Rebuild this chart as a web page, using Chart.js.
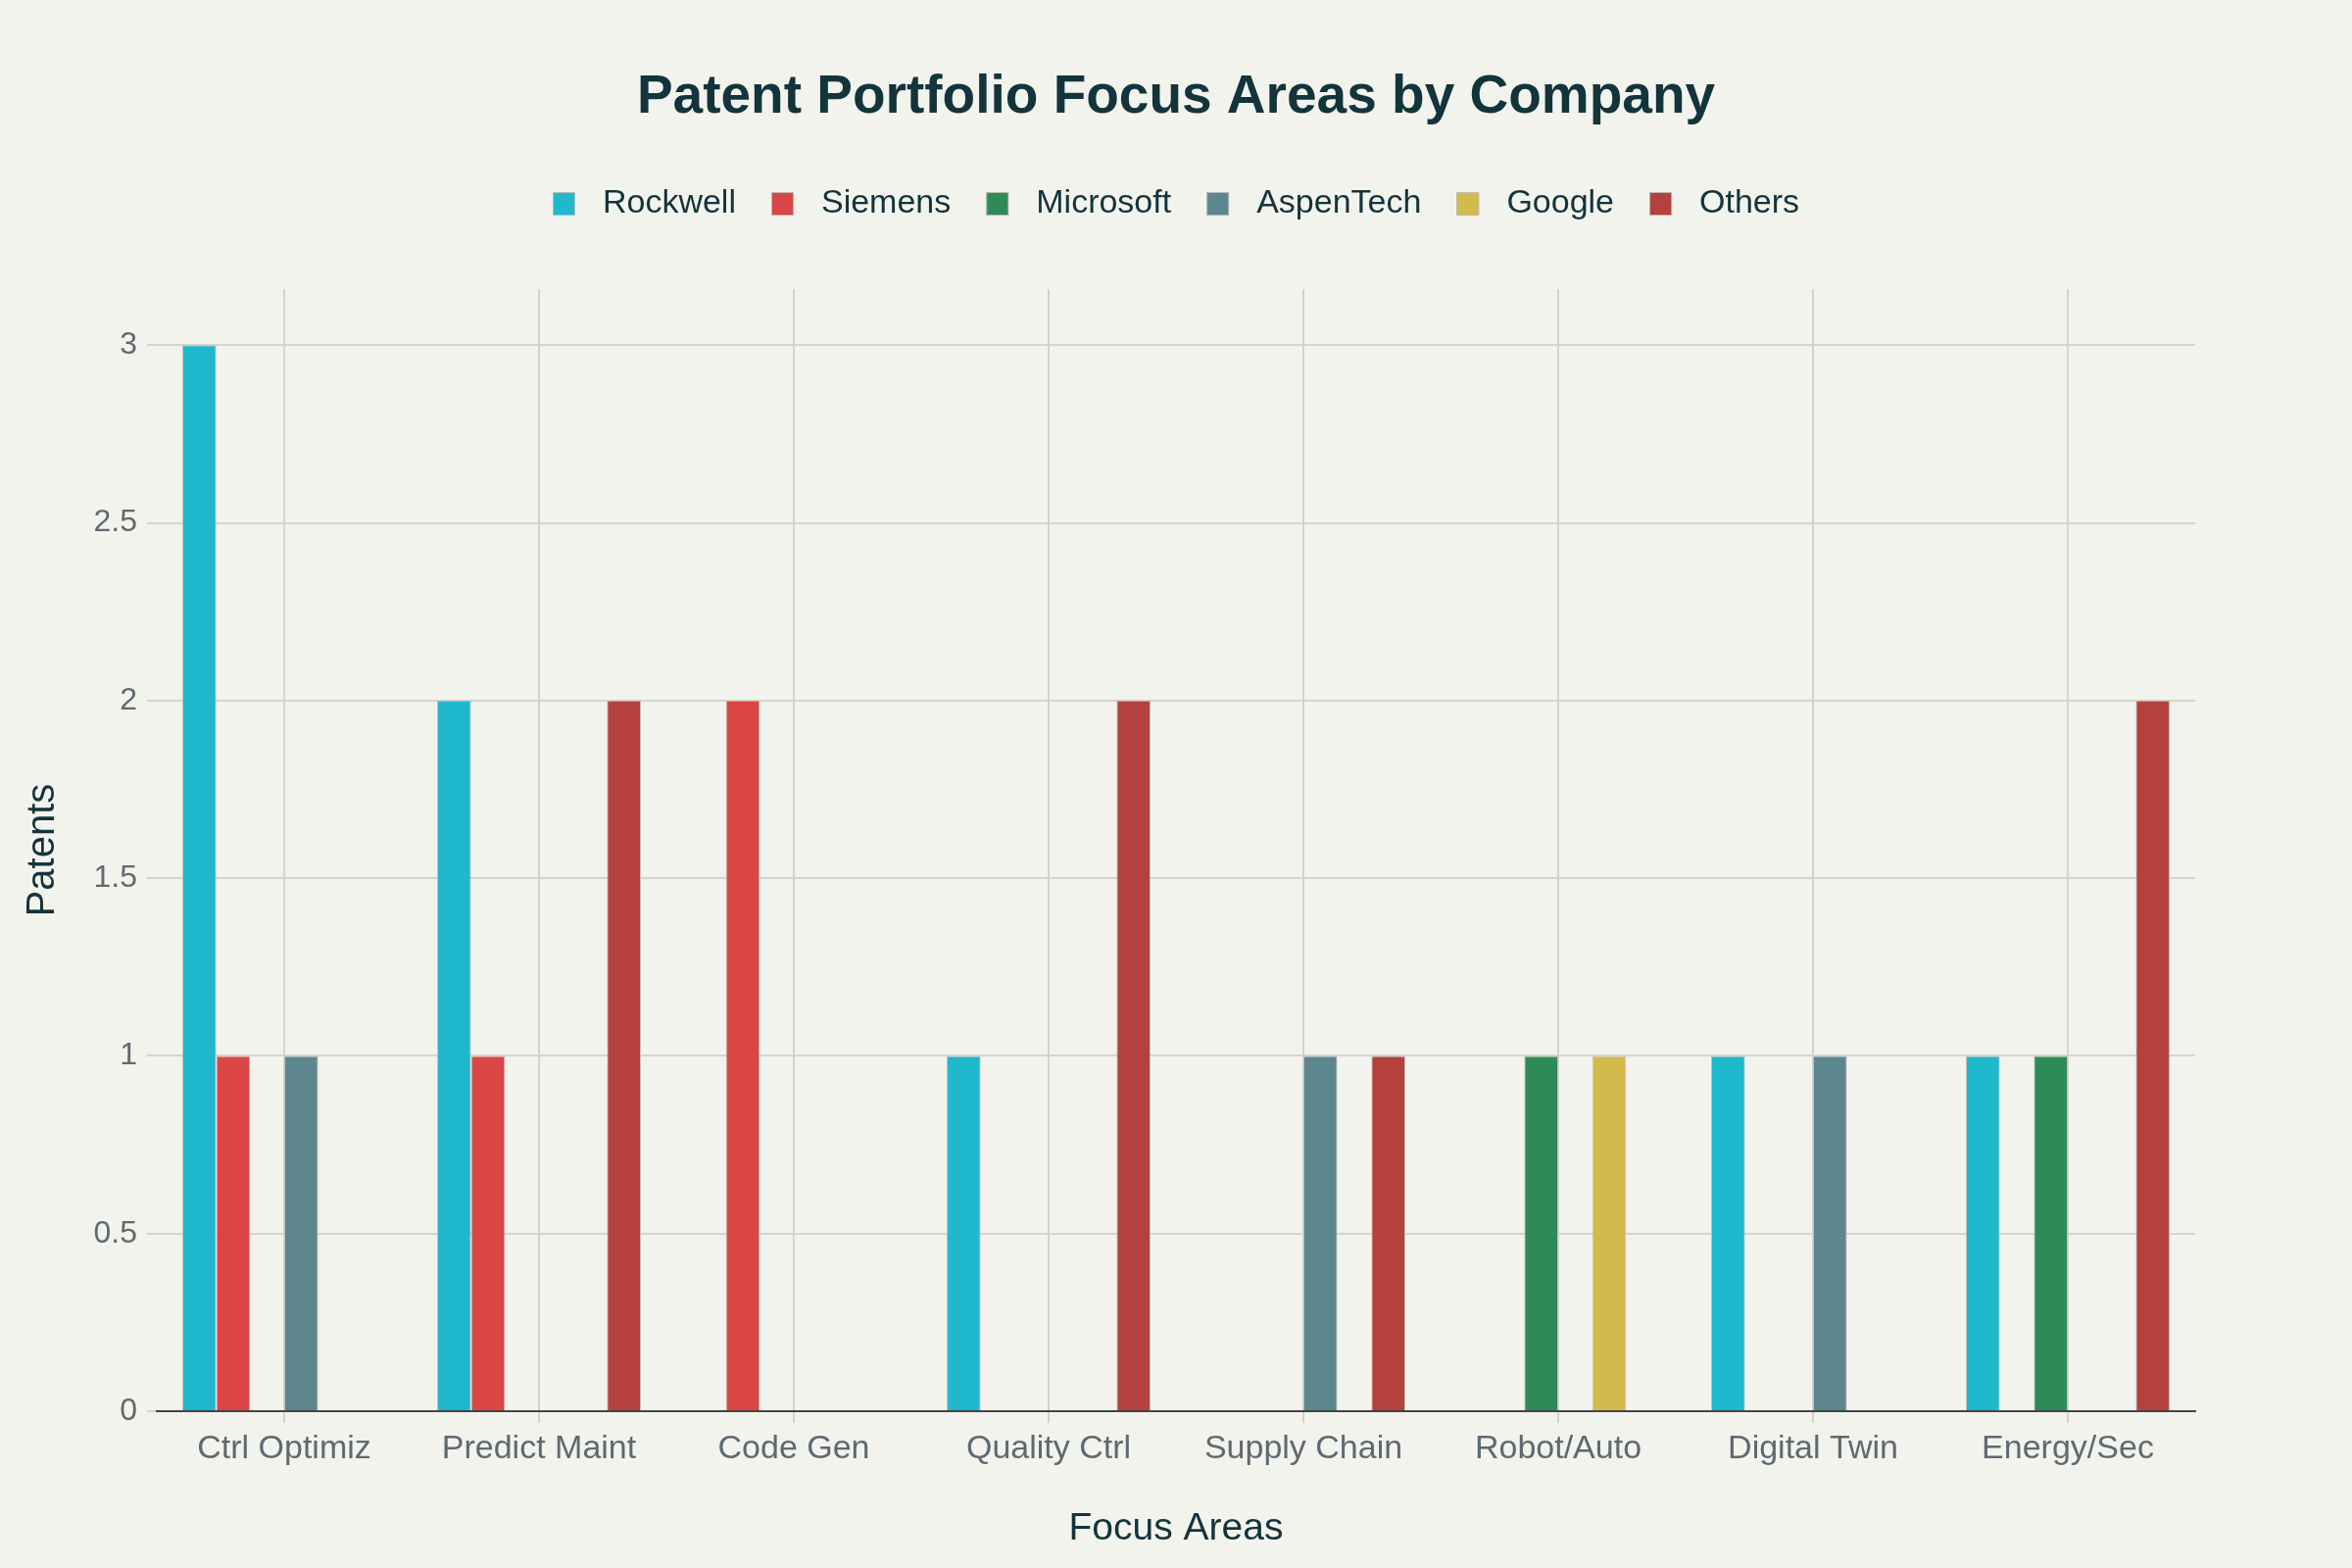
<!DOCTYPE html>
<html>
<head>
<meta charset="utf-8">
<script src="https://cdn.jsdelivr.net/npm/chart.js@4.4.1/dist/chart.umd.min.js"></script>
<style>
  html, body { margin: 0; padding: 0; background: #F3F3EE; }
  canvas { display: block; }
</style>
</head>
<body>
<canvas id="canvas" width="2400" height="1600"></canvas>
<script>
var FOCUS_AREAS = ['Ctrl Optimiz', 'Predict Maint', 'Code Gen', 'Quality Ctrl', 'Supply Chain', 'Robot/Auto', 'Digital Twin', 'Energy/Sec'];
var COMPANIES = ['Rockwell', 'Siemens', 'Microsoft', 'AspenTech', 'Google', 'Others'];
var COLORS = ['#1FB8CD', '#DB4545', '#2E8B57', '#5D878F', '#D2BA4C', '#B4413C'];

var rockwell  = [3, 2, 0, 1, 0, 0, 1, 1];
var siemens   = [1, 1, 2, 0, 0, 0, 0, 0];
var microsoft = [0, 0, 0, 0, 0, 1, 0, 1];
var aspentech = [1, 0, 0, 0, 1, 0, 1, 0];
var google    = [0, 0, 0, 0, 0, 1, 0, 0];
var others    = [0, 2, 0, 2, 1, 0, 0, 2];

var Y_TICK_STEP = 0.5;
var Y_MAX = 3.158;

var seriesValues = [rockwell, siemens, microsoft, aspentech, google, others];

var FONT = '"Liberation Sans", Arial, sans-serif';
var DARK = '#13343B';
var GREY = '#5E6A70';
var GRID = '#D6D3CE';
var EDGE = 'rgba(190,190,185,0.9)';

var datasets = COMPANIES.map(function(name, i) {
    return {
        label: name,
        data: seriesValues[i],
        backgroundColor: COLORS[i],
        borderColor: EDGE,
        borderWidth: 1,
        categoryPercentage: 0.8,
        barPercentage: 1.0
    };
});

// legend swatch: a square at the left of a wider box, so the text sits further away
function swatch(color) {
    var c = document.createElement('canvas');
    c.width = 34;
    c.height = 24;
    var g = c.getContext('2d');
    g.fillStyle = color;
    g.fillRect(0, 0, 23, 24);
    g.strokeStyle = EDGE;
    g.lineWidth = 1;
    g.strokeRect(0.5, 0.5, 22, 23);
    return c;
}

// push the plot area down below the legend
var legendGap = {
    id: 'legendGap',
    beforeInit: function(chart) {
        var fit = chart.legend.fit;
        chart.legend.fit = function() {
            fit.bind(chart.legend)();
            this.height = 140;
        };
    }
};

Chart.defaults.font.family = FONT;

var ctx = document.getElementById('canvas').getContext('2d');
window.myBar = new Chart(ctx, {
    type: 'bar',
    data: {
        labels: FOCUS_AREAS,
        datasets: datasets
    },
    plugins: [legendGap],
    options: {
        responsive: false,
        animation: false,
        devicePixelRatio: 1,
        layout: { padding: 0 },
        plugins: {
            title: {
                display: true,
                text: 'Patent Portfolio Focus Areas by Company',
                color: DARK,
                font: { size: 55, weight: 'bold', family: FONT },
                padding: { top: 67, bottom: 22 }
            },
            legend: {
                position: 'top',
                labels: {
                    color: DARK,
                    font: { size: 34, family: FONT },
                    usePointStyle: true,
                    pointStyleWidth: 34,
                    boxHeight: 24,
                    padding: 36,
                    generateLabels: function(chart) {
                        var items = Chart.defaults.plugins.legend.labels.generateLabels(chart);
                        items.forEach(function(it) {
                            it.pointStyle = swatch(COLORS[it.datasetIndex]);
                        });
                        return items;
                    }
                }
            },
            tooltip: { enabled: false }
        },
        scales: {
            x: {
                grid: {
                    offset: false,
                    color: GRID,
                    lineWidth: 2,
                    tickLength: 12,
                    tickColor: GRID
                },
                border: { color: '#444444', width: 2 },
                ticks: {
                    color: GREY,
                    font: { size: 34, family: FONT },
                    padding: 6,
                    maxRotation: 0
                },
                title: {
                    display: true,
                    text: 'Focus Areas',
                    color: DARK,
                    font: { size: 39, family: FONT },
                    padding: { top: 0, bottom: 16 }
                },
                afterFit: function(scale) { scale.height = 160; }
            },
            y: {
                min: 0,
                max: Y_MAX,
                grid: {
                    color: GRID,
                    lineWidth: 2,
                    tickLength: 10,
                    tickColor: GRID
                },
                border: { display: false },
                ticks: {
                    stepSize: Y_TICK_STEP,
                    color: GREY,
                    font: { size: 32, family: FONT },
                    padding: 10,
                    callback: function(v) { return String(v); }
                },
                afterBuildTicks: function(scale) {
                    scale.ticks = scale.ticks.filter(function(t) {
                        var k = t.value / Y_TICK_STEP;
                        return Math.abs(k - Math.round(k)) < 1e-6;
                    });
                },
                title: {
                    display: true,
                    text: 'Patents',
                    color: DARK,
                    font: { size: 40, family: FONT },
                    padding: { top: 20, bottom: 0 }
                },
                afterFit: function(scale) { scale.width = 160; }
            },
            yRight: {
                position: 'right',
                display: true,
                grid: { display: false },
                border: { display: false },
                ticks: { display: false },
                afterFit: function(scale) { scale.width = 160; }
            }
        }
    }
});
</script>
</body>
</html>
